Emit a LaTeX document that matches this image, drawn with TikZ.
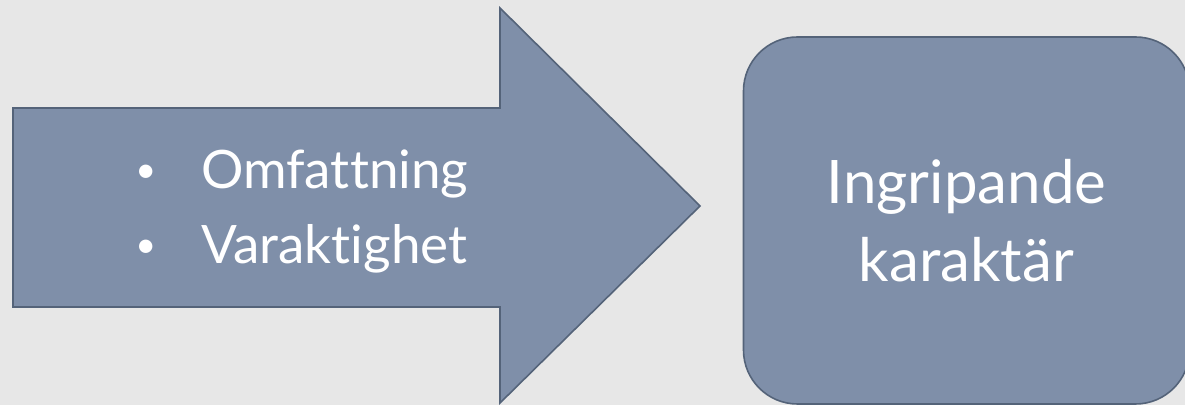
\documentclass[tikz,border=0pt]{standalone}
\usepackage{fontspec}
\setmainfont{Lato}[Ligatures=NoCommon]
\usepackage{xcolor}
\usepackage{tikz}
\usetikzlibrary{positioning}

\definecolor{bgGray}{RGB}{231,231,231}
\definecolor{shapeFill}{RGB}{127,143,169}
\definecolor{shapeLine}{RGB}{84,99,121}

\newcommand{\smallbullet}{\makebox[33pt][l]{\raisebox{3pt}{\fontsize{18}{18}\selectfont\textbullet}}}

\begin{document}
\begin{tikzpicture}[
    x=0.5pt, y=-0.5pt,
    every node/.style={text=white, inner sep=0pt},
    shapebox/.style={fill=shapeFill, draw=shapeLine, line width=0.8pt},
    resultbox/.style={shapebox, rounded corners=27pt, minimum width=223pt, minimum height=183.5pt, align=center},
    bullettext/.style={align=left, font=\fontsize{26.5}{37.5}\selectfont},
    resulttext/.style={font=\fontsize{30}{39}\selectfont}
]

% Background
\fill[bgGray] (0,0) rectangle (1185,405);
\useasboundingbox (0,0) rectangle (1185,405);

% Block arrow
\draw[shapebox] (13,108) -- (500,108) -- (500,8) -- (700,206) -- (500,403) -- (500,307) -- (13,307) -- cycle;
\node[bullettext, anchor=west] (kriterier) at (135,212)
    {\smallbullet Omfattning\\\smallbullet Varaktighet};

% Result box
\node[resultbox, resulttext] (karaktar) at (966.5,220.5) {Ingripande\\karaktär};

\end{tikzpicture}
\end{document}
